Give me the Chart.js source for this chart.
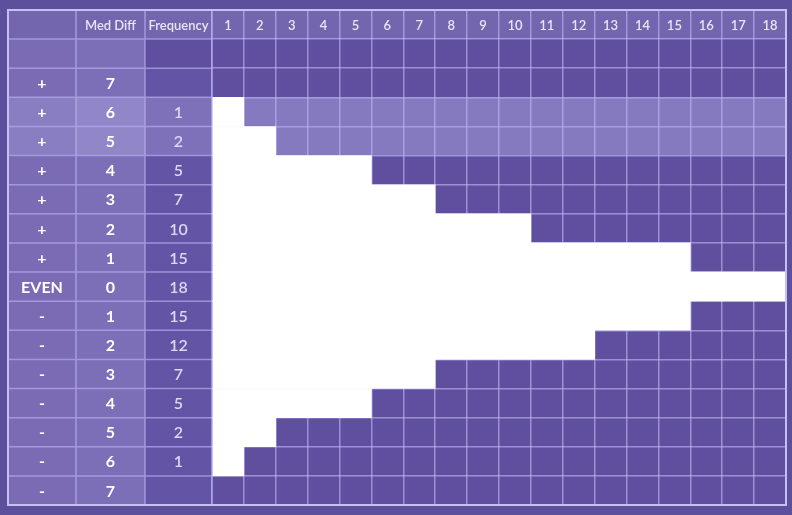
<!DOCTYPE html>
<html>
<head>
<meta charset="utf-8">
<script src="https://cdn.jsdelivr.net/npm/chart.js@4/dist/chart.umd.min.js"></script>
<style>
  html, body { margin: 0; padding: 0; background: #5c4f9c; }
  #wrap { width: 792px; height: 515px; position: relative; }
</style>
</head>
<body>
<div id="wrap"><canvas id="c" width="792" height="515"></canvas></div>
<script>
// ---- data ----
const headerLabels = ['', 'Med Diff', 'Frequency'];
const columnLabels = ['1','2','3','4','5','6','7','8','9','10','11','12','13','14','15','16','17','18'];
const signs = ['+','+','+','+','+','+','+','EVEN','-','-','-','-','-','-','-'];
const medDiff = ['7','6','5','4','3','2','1','0','1','2','3','4','5','6','7'];
const frequency = [null,1,2,5,7,10,15,18,15,12,7,5,2,1,null];
const highlightRows = [1, 2]; // +6, +5

// rows: header row, blank row, then body rows
const rowKeys = ['header', 'blank'].concat(signs.map((s, i) => s + medDiff[i]));
const barValues = [null, null].concat(frequency);

const COL_X = [8, 76, 145]; // left column boundaries (label area), last ends at chartArea.left
const C = {
  header: '#7366af',
  leftLight: '#7a6bb4',
  leftLight2: '#7d6fb7',
  freq: '#6454a5',
  grid: '#5f4f9e',
  hlSign: '#8a7ec2',
  hlMed: '#9187c8',
  hlFreq: '#7e71ba',
  hlGrid: '#857abf',
  line: 'rgba(190,180,245,0.65)',
  border: '#c6bff3'
};

const tablePlugin = {
  id: 'table',
  beforeDraw(chart) {
    const ctx = chart.ctx, ca = chart.chartArea, y = chart.scales.y;
    const n = rowKeys.length;
    const bounds = [];
    for (let i = 0; i <= n; i++) bounds.push(i === 0 ? ca.top : (i === n ? ca.bottom : (y.getPixelForValue(i - 1) + y.getPixelForValue(i)) / 2));
    const colEdges = COL_X.concat([ca.left, ca.right]);
    ctx.save();
    for (let r = 0; r < n; r++) {
      const top = bounds[r], h = bounds[r + 1] - bounds[r];
      const bodyIdx = r - 2;
      const hl = highlightRows.includes(bodyIdx);
      let fills;
      if (r === 0) fills = [C.header, C.header, C.header, C.header];
      else if (r === 1) fills = [C.leftLight, C.leftLight2, C.grid, C.grid];
      else if (hl) fills = [C.hlSign, C.hlMed, C.hlFreq, C.hlGrid];
      else fills = [C.leftLight, C.leftLight2, C.freq, C.grid];
      for (let c = 0; c < 4; c++) {
        ctx.fillStyle = fills[c];
        ctx.fillRect(colEdges[c], top, colEdges[c + 1] - colEdges[c], h);
      }
    }
    ctx.restore();
  },
  afterDraw(chart) {
    const ctx = chart.ctx, ca = chart.chartArea, x = chart.scales.x, y = chart.scales.y;
    const n = rowKeys.length;
    const bounds = [];
    for (let i = 0; i <= n; i++) bounds.push(i === 0 ? ca.top : (i === n ? ca.bottom : (y.getPixelForValue(i - 1) + y.getPixelForValue(i)) / 2));
    ctx.save();
    // left area grid lines
    ctx.strokeStyle = C.line;
    ctx.lineWidth = 1.5;
    ctx.beginPath();
    for (let i = 1; i < n; i++) {
      ctx.moveTo(COL_X[0], bounds[i]); ctx.lineTo(ca.left, bounds[i]);
    }
    for (let c = 1; c < COL_X.length; c++) {
      ctx.moveTo(COL_X[c], ca.top); ctx.lineTo(COL_X[c], ca.bottom);
    }
    ctx.moveTo(ca.left, ca.top); ctx.lineTo(ca.left, bounds[3]);
    ctx.moveTo(ca.left, bounds[16]); ctx.lineTo(ca.left, ca.bottom);
    ctx.stroke();
    // outer border
    ctx.strokeStyle = C.border;
    ctx.lineWidth = 2;
    ctx.strokeRect(COL_X[0], ca.top, ca.right - COL_X[0], ca.bottom - ca.top);

    // header texts
    ctx.textAlign = 'center';
    ctx.textBaseline = 'middle';
    const hy = y.getPixelForValue(0);
    ctx.fillStyle = '#e9e5f8';
    ctx.font = '600 13px Lato';
    const colCenters = [(COL_X[0] + COL_X[1]) / 2, (COL_X[1] + COL_X[2]) / 2, (COL_X[2] + ca.left) / 2];
    headerLabels.forEach((t, i) => { if (t) ctx.fillText(t, colCenters[i], hy + 1); });
    columnLabels.forEach((t, i) => {
      ctx.fillText(t, x.getPixelForValue(i + 0.5), hy + 1);
    });
    // body texts
    signs.forEach((s, i) => {
      const cy = y.getPixelForValue(i + 2) + 1;
      ctx.fillStyle = '#ffffff';
      ctx.font = 'bold 16px Lato';
      ctx.fillText(s, colCenters[0], cy);
      ctx.fillText(medDiff[i], colCenters[1], cy);
      if (frequency[i] !== null) {
        ctx.fillStyle = '#ddd7f1';
        ctx.font = '600 16px Lato';
        ctx.fillText(String(frequency[i]), colCenters[2], cy);
      }
    });
    ctx.restore();
  }
};

new Chart(document.getElementById('c'), {
  type: 'bar',
  data: {
    labels: rowKeys,
    datasets: [{
      data: barValues,
      backgroundColor: '#ffffff',
      borderWidth: 0,
      barPercentage: 1.0,
      categoryPercentage: 1.0
    }]
  },
  options: {
    indexAxis: 'y',
    responsive: false,
    animation: false,
    devicePixelRatio: 1,
    layout: { padding: { left: 212, right: 6, top: 10, bottom: 10 } },
    plugins: { legend: { display: false }, tooltip: { enabled: false } },
    scales: {
      x: {
        type: 'linear',
        min: 0, max: 18,
        ticks: { display: false, stepSize: 1 },
        grid: { color: C.line, lineWidth: 1.5, drawTicks: false },
        border: { display: false }
      },
      y: {
        type: 'category',
        offset: true,
        ticks: { display: false },
        grid: { offset: true, color: C.line, lineWidth: 1.5, drawTicks: false },
        border: { display: false }
      }
    }
  },
  plugins: [tablePlugin]
});
</script>
</body>
</html>
